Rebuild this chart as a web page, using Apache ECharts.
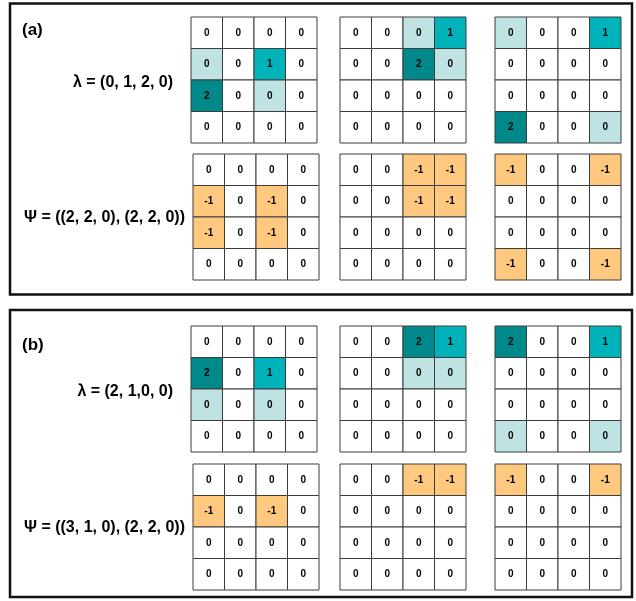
<!DOCTYPE html>
<html>
<head>
<meta charset="utf-8">
<script src="https://cdn.jsdelivr.net/npm/echarts@6/dist/echarts.min.js"></script>
<style>
  html, body { margin: 0; padding: 0; background: #fff; }
  #chart { width: 636px; height: 601px; }
</style>
</head>
<body>
<div id="chart"></div>
<script>
// cell values of the 4x4 boards, row by row
const lambdaA1 = [[0, 0, 0, 0], [0, 0, 1, 0], [2, 0, 0, 0], [0, 0, 0, 0]];
const lambdaA2 = [[0, 0, 0, 1], [0, 0, 2, 0], [0, 0, 0, 0], [0, 0, 0, 0]];
const lambdaA3 = [[0, 0, 0, 1], [0, 0, 0, 0], [0, 0, 0, 0], [2, 0, 0, 0]];
const psiA1 = [[0, 0, 0, 0], [-1, 0, -1, 0], [-1, 0, -1, 0], [0, 0, 0, 0]];
const psiA2 = [[0, 0, -1, -1], [0, 0, -1, -1], [0, 0, 0, 0], [0, 0, 0, 0]];
const psiA3 = [[-1, 0, 0, -1], [0, 0, 0, 0], [0, 0, 0, 0], [-1, 0, 0, -1]];
const lambdaB1 = [[0, 0, 0, 0], [2, 0, 1, 0], [0, 0, 0, 0], [0, 0, 0, 0]];
const lambdaB2 = [[0, 0, 2, 1], [0, 0, 0, 0], [0, 0, 0, 0], [0, 0, 0, 0]];
const lambdaB3 = [[2, 0, 0, 1], [0, 0, 0, 0], [0, 0, 0, 0], [0, 0, 0, 0]];
const psiB1 = [[0, 0, 0, 0], [-1, 0, -1, 0], [0, 0, 0, 0], [0, 0, 0, 0]];
const psiB2 = [[0, 0, -1, -1], [0, 0, 0, 0], [0, 0, 0, 0], [0, 0, 0, 0]];
const psiB3 = [[-1, 0, 0, -1], [0, 0, 0, 0], [0, 0, 0, 0], [0, 0, 0, 0]];

// highlight kind of each cell: d = dark, t = teal, l = light, '' = none
const shadeA1 = [['', '', '', ''], ['l', '', 't', ''], ['d', '', 'l', ''], ['', '', '', '']];
const shadeA2 = [['', '', 'l', 't'], ['', '', 'd', 'l'], ['', '', '', ''], ['', '', '', '']];
const shadeA3 = [['l', '', '', 't'], ['', '', '', ''], ['', '', '', ''], ['d', '', '', 'l']];
const shadeB1 = [['', '', '', ''], ['d', '', 't', ''], ['l', '', 'l', ''], ['', '', '', '']];
const shadeB2 = [['', '', 'd', 't'], ['', '', 'l', 'l'], ['', '', '', ''], ['', '', '', '']];
const shadeB3 = [['d', '', '', 't'], ['', '', '', ''], ['', '', '', ''], ['l', '', '', 'l']];

const boardIdx = ['0', '1', '2', '3'];
const panelNames = ['(a)', '(b)'];
const lambdaLabels = ['λ = (0, 1, 2, 0)', 'λ = (2, 1,0, 0)'];
const psiLabels = ['Ψ = ((2, 2, 0), (2, 2, 0))', 'Ψ = ((3, 1, 0), (2, 2, 0))'];

const boards = [
    { v: lambdaA1, s: shadeA1 }, { v: lambdaA2, s: shadeA2 }, { v: lambdaA3, s: shadeA3 },
    { v: psiA1 }, { v: psiA2 }, { v: psiA3 },
    { v: lambdaB1, s: shadeB1 }, { v: lambdaB2, s: shadeB2 }, { v: lambdaB3, s: shadeB3 },
    { v: psiB1 }, { v: psiB2 }, { v: psiB3 }
];

const colors = { d: '#00898b', t: '#00b3bb', l: '#bfe3e3', o: '#fec87f', '': '#ffffff' };
const rowTops = [17, 154, 326, 464];
const lambdaLefts = [191, 340, 495];
const psiLefts = [193, 340, 495];
const size = 126;
const font = '"Liberation Sans", Arial, sans-serif';

const grids = [], xAxes = [], yAxes = [], series = [];
boards.forEach((b, i) => {
    const row = Math.floor(i / 3);
    const col = i % 3;
    const lefts = row % 2 === 0 ? lambdaLefts : psiLefts;
    grids.push({ left: lefts[col], top: rowTops[row], width: size, height: size });
    xAxes.push({ type: 'category', data: boardIdx, gridIndex: i, show: false });
    yAxes.push({ type: 'category', data: boardIdx, gridIndex: i, inverse: true, show: false });
    const cells = [];
    b.v.forEach((r, y) => r.forEach((val, x) => {
        let kind = b.s ? b.s[y][x] : '';
        if (val === -1) kind = 'o';
        cells.push({ value: [x, y, val], kind: kind });
    }));
    series.push({
        type: 'custom',
        xAxisIndex: i,
        yAxisIndex: i,
        data: cells.map((c) => c.value),
        renderItem: (params, api) => {
            const c = api.coord([api.value(0), api.value(1)]);
            const s = api.size([1, 1]);
            const cell = cells[params.dataIndex];
            return {
                type: 'group',
                children: [
                    {
                        type: 'rect',
                        shape: { x: c[0] - s[0] / 2, y: c[1] - s[1] / 2, width: s[0], height: s[1] },
                        style: { fill: colors[cell.kind], stroke: '#3c3c3c', lineWidth: 1 }
                    },
                    {
                        type: 'text',
                        x: c[0],
                        y: c[1],
                        style: {
                            text: String(cell.value[2]),
                            fill: '#000',
                            font: 'bold 10px ' + font,
                            align: 'center',
                            verticalAlign: 'middle'
                        }
                    }
                ]
            };
        }
    });
});

// panel frames and side labels
const frameTops = [3.5, 310];
const frameBottoms = [294.5, 597];
const nameY = [30, 345];
const lambdaY = [83, 392];
const psiY = [218, 528];
const graphics = [];
[0, 1].forEach((p) => {
    graphics.push({
        type: 'rect',
        shape: { x: 10, y: frameTops[p], width: 622, height: frameBottoms[p] - frameTops[p] },
        style: { fill: 'none', stroke: '#111', lineWidth: 2.5 }
    });
    graphics.push({
        type: 'text', x: 22, y: nameY[p],
        style: { text: panelNames[p], font: 'bold 17px ' + font, fill: '#000', verticalAlign: 'middle' }
    });
    graphics.push({
        type: 'text', x: 173, y: lambdaY[p],
        style: { text: lambdaLabels[p], font: 'bold 16px ' + font, fill: '#000', align: 'right', verticalAlign: 'middle' }
    });
    graphics.push({
        type: 'text', x: 185, y: psiY[p],
        style: { text: psiLabels[p], font: 'bold 16px ' + font, fill: '#000', align: 'right', verticalAlign: 'middle' }
    });
});

const chart = echarts.init(document.getElementById('chart'));
chart.setOption({
    animation: false,
    backgroundColor: '#fff',
    grid: grids,
    xAxis: xAxes,
    yAxis: yAxes,
    series: series,
    graphic: graphics
});
</script>
</body>
</html>
